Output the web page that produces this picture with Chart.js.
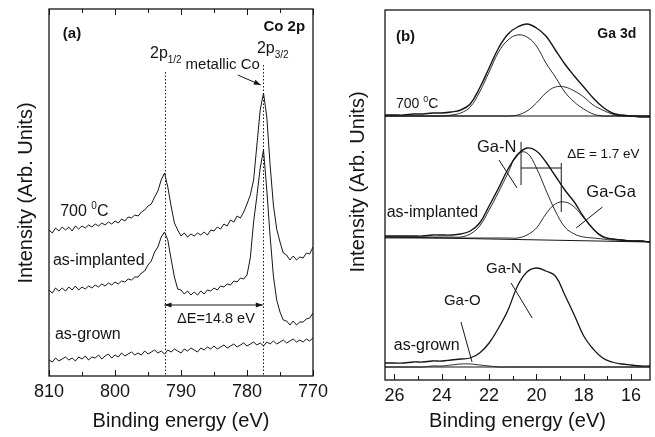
<!DOCTYPE html>
<html>
<head>
<meta charset="utf-8">
<script src="https://cdn.jsdelivr.net/npm/chart.js@4.4.1/dist/chart.umd.min.js"></script>
<style>
html,body{margin:0;padding:0;background:#fff;}
#wrap{position:relative;width:655px;height:437px;background:#fff;}
canvas{position:absolute;left:0;top:0;}
</style>
</head>
<body>
<div id="wrap">
<canvas id="co2p" width="655" height="437"></canvas>
<canvas id="ga3d" width="655" height="437"></canvas>
</div>
<script>
// ---- panel (a): Co 2p, binding energy grid (eV)
const energyA = [
  810,809.5,809,808.5,808,807.5,807,806.5,806,805.5,
  805,804.5,804,803.5,803,802.5,802,801.5,801,800.5,
  800,799.5,799,798.5,798,797.5,797,796.5,796,795.5,
  795,794.5,794,793.5,793,792.5,792,791.5,791,790.5,
  790,789.5,789,788.5,788,787.5,787,786.5,786,785.5,
  785,784.5,784,783.5,783,782.5,782,781.5,781,780.5,
  780,779.5,779,778.5,778,777.5,777,776.5,776,775.5,
  775,774.5,774,773.5,773,772.5,772,771.5,771,770.5,
  770
];
const co700 = [
  146,143,148,145,149,146,149,145,150,147,
  150,148,151,149,152,150,153,151,154,152,
  155,153,157,155,159,158,161,160,164,166,
  170,172,179,185,196,203,189,170,153,146,
  140,143,139,142,140,143,141,144,141,146,
  145,149,147,152,150,156,154,160,158,164,
  172,181,196,231,266,283,259,211,171,147,
  134,123,121,116,120,116,119,118,123,122,
  129
];
const coImplanted = [
  86,83,88,85,88,85,89,86,90,86,
  89,87,90,88,91,89,92,90,93,91,
  94,92,95,94,97,96,99,99,103,105,
  111,115,124,129,139,144,136,117,99,87,
  86,82,85,81,84,81,85,82,86,85,
  88,86,90,89,92,91,95,94,98,97,
  101,118,154,180,208,226,186,140,100,76,
  64,56,55,51,55,51,54,54,57,58,
  63
];
const coGrown = [
  16,14,18,15,17,19,16,18,15,19,
  17,20,16,19,18,21,17,20,22,18,
  21,19,23,20,22,24,21,23,21,25,
  22,24,26,23,25,22,26,24,27,25,
  23,27,25,28,26,24,28,26,29,27,
  30,27,29,31,28,30,32,29,31,33,
  30,32,34,31,33,30,34,32,35,32,
  34,36,33,35,37,34,36,34,37,35,
  38
];
const ticksA = [810, 800, 790, 780, 770];
const minorA = [805, 795, 785, 775];

// ---- panel (b): Ga 3d
const energyB = [26.4,26.0,25.6,25.2,24.8,24.4,24.0,23.6,23.2,22.8,22.4,22.0,21.6,21.2,20.8,
  20.4,20.0,19.6,19.2,18.8,18.4,18.0,17.6,17.2,16.8,16.4,16.0,15.6,15.2];
const env700 = [265,265,265,266,266,267,267,268,270,276,292,312,332,346,353,
  356,352,344,330,316,304,293,282,273,267,265,264,263,263];
const gan700 = [264,264,264,264,264,264,264,265,267,273,288,308,328,340,345,
  343,334,317,303,288,278,271,266,264,264,264,264,264,264];
const gaga700 = [264,264,264,264,264,264,264,264,264,264,264,264,264,264,265,
  269,277,287,293,293,289,283,275,270,266,264,264,264,264];
const envImpl = [144,144,144,144,144,145,145,145,146,149,157,174,192,211,225,
  232,229,218,204,190,178,163,151,143,141,140,139,139,138];
const ganImpl = [143,143,143,143,143,143,143,143,143,146,154,170,188,207,226,
  227,212,190,169,153,146,143,142,141,140,140,139,139,138];
const gagaImpl = [142,142,142,142,142,142,142,142,142,142,142,142,142,142,142,
  145,152,166,176,178,173,162,151,144,141,140,139,139,138];
const envGrown = [17,17,17,18,18,19,19,20,21,22,27,37,52,70,94,
  108,112,109,104,85,65,44,31,22,18,16,15,14,14];
const gaoGrown = [13,13,13,13,13,14,14,15,16,16,15,14,13,13,13,
  13,13,13,13,13,13,13,13,13,13,13,13,13,13];
const bgEnergy = [26.4, 15.2];
const bg700 = [264, 264];
const bgImpl = [143, 138];
const bgGrown = [13, 13];
const ticksB = [26, 24, 22, 20, 18, 16];
const minorB = [25, 23, 21, 19, 17];

const FONT = '"Liberation Sans", Arial, Helvetica, sans-serif';
const INK = '#151515';
Chart.defaults.font.family = FONT;
Chart.defaults.color = INK;

function pts(xs, ys) { return xs.map((e, i) => ({x: e, y: ys[i]})); }

function line(data, w, smooth) {
  return {
    data: data, borderColor: INK, borderWidth: w || 1, pointRadius: 0,
    fill: false, tension: smooth ? 0.4 : 0
  };
}

// text made of pieces: [text, size, dy, bold]
function rich(ctx, x, y, pieces, align) {
  const f = p => (p[3] ? 'bold ' : '') + p[1] + 'px ' + FONT;
  let w = 0;
  pieces.forEach(p => { ctx.font = f(p); w += ctx.measureText(p[0]).width; });
  let cx = align === 'right' ? x - w : x;
  ctx.textAlign = 'left';
  ctx.textBaseline = 'alphabetic';
  pieces.forEach(p => {
    ctx.font = f(p);
    ctx.fillText(p[0], cx, y + (p[2] || 0));
    cx += ctx.measureText(p[0]).width;
  });
}

function seg(ctx, a, b) {
  ctx.beginPath(); ctx.moveTo(a[0], a[1]); ctx.lineTo(b[0], b[1]); ctx.stroke();
}

function head(ctx, from, to) {
  const ang = Math.atan2(to[1] - from[1], to[0] - from[0]);
  const L = 7, W = 2.6;
  ctx.beginPath();
  ctx.moveTo(to[0], to[1]);
  ctx.lineTo(to[0] - L * Math.cos(ang) + W * Math.sin(ang), to[1] - L * Math.sin(ang) - W * Math.cos(ang));
  ctx.lineTo(to[0] - L * Math.cos(ang) - W * Math.sin(ang), to[1] - L * Math.sin(ang) + W * Math.cos(ang));
  ctx.closePath(); ctx.fill();
}

function frame(chart, major, minor, topTicks) {
  const {ctx, chartArea: a, scales: {x}} = chart;
  ctx.save();
  ctx.strokeStyle = INK; ctx.lineWidth = 1.3;
  ctx.strokeRect(a.left, a.top, a.right - a.left, a.bottom - a.top);
  ctx.lineWidth = 1;
  const mark = (v, len) => {
    const px = Math.round(x.getPixelForValue(v)) + 0.5;
    seg(ctx, [px, a.bottom], [px, a.bottom - len]);
    if (topTicks) seg(ctx, [px, a.top], [px, a.top + len]);
  };
  major.forEach(v => mark(v, 6));
  minor.forEach(v => mark(v, 4));
  ctx.restore();
}

function yTitle(ctx, cx, cy) {
  ctx.save();
  ctx.translate(cx, cy);
  ctx.rotate(-Math.PI / 2);
  ctx.font = '20px ' + FONT;
  ctx.textAlign = 'center'; ctx.textBaseline = 'middle';
  ctx.fillText('Intensity (Arb. Units)', 0, 0);
  ctx.restore();
}

function xAxis(min, max, ticks, height) {
  return {
    type: 'linear', min: min, max: max, reverse: true,
    grid: {display: false}, border: {display: false},
    ticks: {font: {size: 18}, padding: -3, color: INK, maxRotation: 0},
    afterBuildTicks: s => { s.ticks = ticks.map(v => ({value: v})); },
    afterFit: s => { s.height = height; },
    title: {display: true, text: 'Binding energy (eV)', font: {size: 20}, color: INK,
      padding: {top: 0, bottom: 4}}
  };
}

const decorA = {
  id: 'decorA',
  afterDraw(chart) {
    const {ctx, scales: {x, y}} = chart;
    const P = (E, I) => [x.getPixelForValue(E), y.getPixelForValue(I)];
    frame(chart, ticksA, minorA, true);
    ctx.save();
    ctx.fillStyle = INK; ctx.strokeStyle = INK; ctx.lineWidth = 1;
    // peak markers
    ctx.setLineDash([1.5, 2]);
    [[792.5, 304], [777.6, 311]].forEach(([E, top]) => {
      const p = Math.round(x.getPixelForValue(E)) + 0.5;
      seg(ctx, [p, y.getPixelForValue(top)], [p, y.getPixelForValue(0)]);
    });
    ctx.setLineDash([]);
    // spin-orbit splitting
    const l = P(792.5, 71), r = P(777.6, 71);
    seg(ctx, l, r); head(ctx, r, l); head(ctx, l, r);
    rich(ctx, ...P(790.6, 53), [['\u0394E=14.8 eV', 14.5]]);
    // metallic Co pointer
    const a0 = P(781.4, 301), a1 = P(777.9, 291);
    seg(ctx, a0, a1); head(ctx, a0, a1);
    rich(ctx, ...P(789.3, 307), [['metallic Co', 15]]);
    rich(ctx, ...P(794.7, 318), [['2p', 16], ['1/2', 10, 5]]);
    rich(ctx, ...P(778.5, 323), [['2p', 16], ['3/2', 10, 5]]);
    rich(ctx, ...P(807.9, 338), [['(a)', 15, 0, true]]);
    rich(ctx, ...P(771.2, 345), [['Co 2p', 15, 0, true]], 'right');
    rich(ctx, ...P(808.3, 160), [['700 ', 16], ['0', 10, -7], ['C', 16]]);
    rich(ctx, ...P(809.4, 111), [['as-implanted', 16]]);
    rich(ctx, ...P(809.1, 37), [['as-grown', 16]]);
    yTitle(ctx, 26, 193);
    ctx.restore();
  }
};

const decorB = {
  id: 'decorB',
  afterDraw(chart) {
    const {ctx, scales: {x, y}} = chart;
    const P = (E, I) => [x.getPixelForValue(E), y.getPixelForValue(I)];
    frame(chart, ticksB, minorB, false);
    ctx.save();
    ctx.fillStyle = INK; ctx.strokeStyle = INK; ctx.lineWidth = 1;
    rich(ctx, ...P(25.94, 339), [['(b)', 15, 0, true]]);
    rich(ctx, ...P(15.78, 342), [['Ga 3d', 14, 0, true]], 'right');
    rich(ctx, ...P(25.94, 272), [['700 ', 14], ['0', 9, -6], ['C', 14]]);
    // as-implanted: components and splitting
    rich(ctx, ...P(22.51, 228), [['Ga-N', 16.5]]);
    seg(ctx, P(21.58, 220), P(20.82, 192));
    rich(ctx, ...P(18.70, 222), [['\u0394E = 1.7 eV', 13.5]]);
    seg(ctx, P(20.65, 212), P(18.95, 212));
    seg(ctx, P(20.65, 238), P(20.65, 195));
    seg(ctx, P(18.95, 217), P(18.95, 168));
    rich(ctx, ...P(17.89, 183), [['Ga-Ga', 16.5]]);
    seg(ctx, P(17.21, 173), P(18.32, 152));
    rich(ctx, ...P(26.33, 163), [['as-implanted', 16]]);
    // as-grown
    rich(ctx, ...P(22.13, 107), [['Ga-N', 15]]);
    seg(ctx, P(21.07, 97), P(20.18, 62));
    rich(ctx, ...P(23.91, 75), [['Ga-O', 15]]);
    seg(ctx, P(23.19, 58), P(22.72, 18));
    rich(ctx, ...P(26.03, 30), [['as-grown', 16]]);
    yTitle(ctx, 358, 182);
    ctx.restore();
  }
};

new Chart(document.getElementById('co2p'), {
  type: 'line',
  data: {
    datasets: [
      line(pts(energyA, co700)),
      line(pts(energyA, coImplanted)),
      line(pts(energyA, coGrown))
    ]
  },
  options: {
    responsive: false, animation: false, devicePixelRatio: 1,
    layout: {padding: {left: 49, top: 9, right: 342, bottom: 0}},
    plugins: {legend: {display: false}, tooltip: {enabled: false}},
    scales: {
      x: xAxis(770, 810, ticksA, 61),
      y: {display: false, min: 0, max: 367}
    }
  },
  plugins: [decorA]
});

new Chart(document.getElementById('ga3d'), {
  type: 'line',
  data: {
    datasets: [
      line(pts(energyB, env700), 1.4, true),
      line(pts(energyB, gan700), 0.9, true),
      line(pts(energyB, gaga700), 0.9, true),
      line(pts(bgEnergy, bg700), 1.1),
      line(pts(energyB, envImpl), 1.4, true),
      line(pts(energyB, ganImpl), 0.9, true),
      line(pts(energyB, gagaImpl), 0.9, true),
      line(pts(bgEnergy, bgImpl), 1.1),
      line(pts(energyB, envGrown), 1.3, true),
      line(pts(energyB, gaoGrown), 0.9, true),
      line(pts(bgEnergy, bgGrown), 1.1)
    ]
  },
  options: {
    responsive: false, animation: false, devicePixelRatio: 1,
    layout: {padding: {left: 385, top: 10, right: 5, bottom: 0}},
    plugins: {legend: {display: false}, tooltip: {enabled: false}},
    scales: {
      x: xAxis(15.2, 26.4, ticksB, 57),
      y: {display: false, min: 0, max: 370}
    }
  },
  plugins: [decorB]
});
</script>
</body>
</html>
